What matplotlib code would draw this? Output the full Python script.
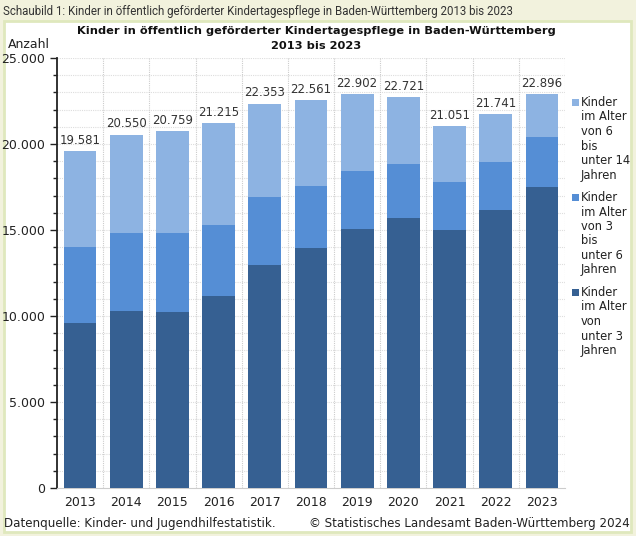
import matplotlib.pyplot as plt
from matplotlib.patches import Rectangle
from matplotlib.ticker import MultipleLocator, FuncFormatter

years = ['2013', '2014', '2015', '2016', '2017', '2018', '2019', '2020', '2021', '2022', '2023']
unter_3 = [9593, 10308, 10250, 11144, 12965, 13973, 15039, 15678, 15000, 16163, 17481]
von_3_bis_6 = [4436, 4535, 4593, 4146, 3973, 3585, 3411, 3159, 2810, 2771, 2907]
totals = [19581, 20550, 20759, 21215, 22353, 22561, 22902, 22721, 21051, 21741, 22896]
von_6_bis_14 = [t - a - b for t, a, b in zip(totals, unter_3, von_3_bis_6)]

labels = ['Kinder\nim Alter\nvon 6\nbis\nunter 14\nJahren',
          'Kinder\nim Alter\nvon 3\nbis\nunter 6\nJahren',
          'Kinder\nim Alter\nvon\nunter 3\nJahren']
colors = ['#8db3e2', '#558ed5', '#366092']

fig = plt.figure(figsize=(6.36, 5.36), dpi=100)
fig.patch.set_facecolor('#f2f2dd')
fig.patches.append(Rectangle((4 / 636, 1 - 532 / 536), 627 / 636, 511 / 536,
                             transform=fig.transFigure, facecolor='white',
                             edgecolor='#dfe8bd', linewidth=2, zorder=-5))

ax = fig.add_axes([57 / 636, 1 - 488 / 536, 508 / 636, 430 / 536])
ax.set_facecolor('white')
x = range(len(years))
w = 0.71
ax.bar(x, unter_3, w, color=colors[2], zorder=3)
ax.bar(x, von_3_bis_6, w, bottom=unter_3, color=colors[1], zorder=3)
bottom2 = [a + b for a, b in zip(unter_3, von_3_bis_6)]
ax.bar(x, von_6_bis_14, w, bottom=bottom2, color=colors[0], zorder=3)

for i, t in enumerate(totals):
    ax.text(i, t + 250, f'{t:,}'.replace(',', '.'), ha='center', va='bottom',
            fontsize=8.5, color='#333333')

ax.set_xlim(-0.5, len(years) - 0.5)
ax.set_ylim(0, 25000)
ax.set_xticks(list(x))
ax.set_xticklabels(years)
ax.yaxis.set_major_locator(MultipleLocator(5000))
ax.yaxis.set_minor_locator(MultipleLocator(1000))
ax.yaxis.set_major_formatter(FuncFormatter(lambda v, p: f'{int(v):,}'.replace(',', '.')))
ax.tick_params(axis='y', which='major', length=5, width=1, labelsize=9, colors='#222222')
ax.tick_params(axis='y', which='minor', length=3, width=1, color='#222222')
ax.tick_params(axis='x', length=0, labelsize=9, colors='#222222', pad=6)

# grid
for v in range(1000, 25001, 1000):
    ax.axhline(v, color='#dddddd', lw=0.8, ls=(0, (1, 1)), zorder=1)
for b in range(1, len(years) + 1):
    ax.axvline(b - 0.5, color='#cccccc', lw=0.8, ls=(0, (1, 1)), zorder=1)

for s in ['top', 'right']:
    ax.spines[s].set_visible(False)
ax.spines['bottom'].set_color('#cccccc')
ax.spines['left'].set_color('#222222')
ax.spines['left'].set_linewidth(1.3)

# legend
leg_y = [103, 198, 293]
for lab, col, yy in zip(labels, colors, leg_y):
    fig.patches.append(Rectangle((572 / 636, 1 - (yy + 3) / 536), 7 / 636, 7 / 536,
                                 transform=fig.transFigure, facecolor=col, edgecolor='none'))
    fig.text(581 / 636, 1 - (yy - 7) / 536, lab, ha='left', va='top', fontsize=8.3,
             color='#222222', linespacing=1.15)

fig.text(316 / 636, 1 - 31 / 536, 'Kinder in öffentlich geförderter Kindertagespflege in Baden-Württemberg',
         ha='center', va='center', fontsize=8.2, fontweight='bold', color='#111111')
fig.text(316 / 636, 1 - 46 / 536, '2013 bis 2023',
         ha='center', va='center', fontsize=8.2, fontweight='bold', color='#111111')
fig.text(8 / 636, 1 - 45 / 536, 'Anzahl', ha='left', va='center', fontsize=9, color='#222222')
fig.text(3 / 636, 1 - 11 / 536, 'Schaubild 1: Kinder in öffentlich geförderter Kindertagespflege in Baden-Württemberg 2013 bis 2023',
         ha='left', va='center', fontsize=8.3, family='Roboto', color='#333333')
fig.text(4 / 636, 1 - 523 / 536, 'Datenquelle: Kinder- und Jugendhilfestatistik.', ha='left', va='center',
         fontsize=8.6, color='#222222')
fig.text(630 / 636, 1 - 523 / 536, '© Statistisches Landesamt Baden-Württemberg 2024', ha='right', va='center',
         fontsize=8.6, color='#222222')

fig.savefig('out.png', dpi=100, facecolor=fig.get_facecolor())
